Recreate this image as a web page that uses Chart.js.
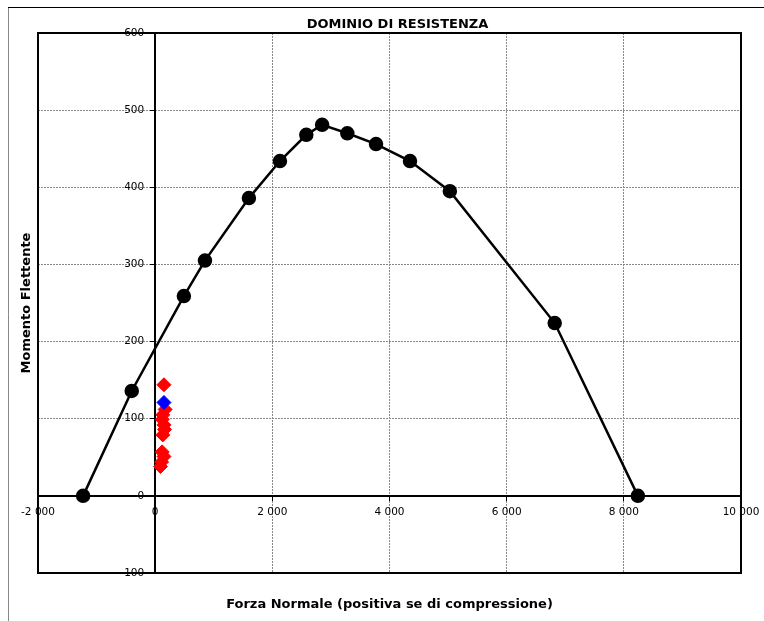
<!DOCTYPE html>
<html>
<head>
<meta charset="utf-8">
<script src="https://cdn.jsdelivr.net/npm/chart.js@4"></script>
<style>
  html, body { margin: 0; padding: 0; background: #fff; }
  #wrap { width: 764px; height: 621px; position: relative; }
</style>
</head>
<body>
<div id="wrap"><canvas id="dominioChart" width="764" height="621"></canvas></div>
<script>
// dominio di resistenza (N, M)
const dominioN = [-1230, -400, 490, 850, 1600, 2130, 2580, 2850, 3280, 3770, 4350, 5030, 6820, 8240];
const dominioM = [0, 136, 259, 305, 386, 434, 468, 481, 470, 456, 434, 395, 224, 0];

// sollecitazioni di verifica
const rossiN = [150, 170, 130, 120, 150, 160, 130, 120, 150, 110, 90];
const rossiM = [144, 112, 105, 99, 92, 86, 79, 57, 51, 44, 38];
const bluN = [150];
const bluM = [121];

const X_MIN = -2000, X_MAX = 10000, X_STEP = 2000;
const Y_MIN = -100, Y_MAX = 600, Y_STEP = 100;

const FONT = 'DejaVu Sans';

function toPoints(xs, ys) {
    return xs.map((x, i) => ({ x: x, y: ys[i] }));
}

function formatNum(v) {
    return String(v).replace(/\B(?=(\d{3})+(?!\d))/g, ' ');
}

// cornice esterna, riquadro del grafico, etichette e titoli
const framePlugin = {
    id: 'frame',
    beforeDraw(chart) {
        const ctx = chart.ctx;
        ctx.save();
        ctx.fillStyle = '#fff';
        ctx.fillRect(0, 0, chart.width, chart.height);
        ctx.strokeStyle = '#888';
        ctx.lineWidth = 1;
        ctx.beginPath();
        ctx.moveTo(8.5, chart.height);
        ctx.lineTo(8.5, 7.5);
        ctx.stroke();
        ctx.strokeStyle = '#000';
        ctx.beginPath();
        ctx.moveTo(8, 7.5);
        ctx.lineTo(chart.width, 7.5);
        ctx.stroke();
        ctx.restore();
    },
    beforeDatasetsDraw(chart) {
        const a = chart.chartArea;
        const ctx = chart.ctx;
        const xs = chart.scales.x;
        const ys = chart.scales.y;
        const x0 = xs.getPixelForValue(0);
        const y0 = ys.getPixelForValue(0);
        ctx.save();
        ctx.strokeStyle = '#000';
        ctx.lineWidth = 2;
        ctx.strokeRect(a.left, a.top, a.right - a.left, a.bottom - a.top);

        // etichette dei tick accanto agli assi
        ctx.fillStyle = '#000';
        ctx.font = '10.5px "' + FONT + '"';
        ctx.textBaseline = 'middle';
        ctx.textAlign = 'right';
        ys.ticks.forEach(t => {
            ctx.fillText(formatNum(t.value), x0 - 11, ys.getPixelForValue(t.value));
        });
        ctx.textAlign = 'center';
        xs.ticks.forEach(t => {
            ctx.fillText(formatNum(t.value), xs.getPixelForValue(t.value), y0 + 16);
        });
        ctx.restore();
    },
    afterDraw(chart) {
        const a = chart.chartArea;
        const ctx = chart.ctx;
        const cx = (a.left + a.right) / 2;
        ctx.save();
        ctx.fillStyle = '#000';
        ctx.textAlign = 'center';
        ctx.textBaseline = 'middle';
        ctx.font = 'bold 13px "' + FONT + '"';
        ctx.fillText('DOMINIO DI RESISTENZA', cx + 8, 25);
        ctx.fillText('Forza Normale (positiva se di compressione)', cx, 605);
        ctx.translate(27, (a.top + a.bottom) / 2);
        ctx.rotate(-Math.PI / 2);
        ctx.fillText('Momento Flettente', 0, 0);
        ctx.restore();
    }
};

const ctx = document.getElementById('dominioChart').getContext('2d');
new Chart(ctx, {
    type: 'scatter',
    data: {
        datasets: [{
            label: 'Dominio',
            data: toPoints(dominioN, dominioM),
            showLine: true,
            borderColor: '#000',
            backgroundColor: '#000',
            borderWidth: 2.5,
            tension: 0,
            pointRadius: 6,
            pointHoverRadius: 6,
            pointBackgroundColor: '#000',
            pointBorderColor: '#000'
        }, {
            label: 'Blu',
            data: toPoints(bluN, bluM),
            showLine: false,
            pointStyle: 'rectRot',
            pointRadius: 7,
            pointBackgroundColor: '#0000ff',
            pointBorderColor: '#0000ff'
        }, {
            label: 'Rossi',
            data: toPoints(rossiN, rossiM),
            showLine: false,
            pointStyle: 'rectRot',
            pointRadius: 7,
            pointBackgroundColor: '#ff0000',
            pointBorderColor: '#ff0000'
        }]
    },
    options: {
        responsive: false,
        animation: false,
        layout: { padding: { left: 38, top: 33, right: 23, bottom: 48 } },
        plugins: {
            legend: { display: false },
            tooltip: { enabled: false },
            title: { display: false }
        },
        scales: {
            x: {
                type: 'linear',
                position: { y: 0 },
                min: X_MIN,
                max: X_MAX,
                grid: {
                    color: (c) => (c.tick && (c.tick.value === X_MIN || c.tick.value === X_MAX || c.tick.value === 0)) ? 'rgba(0,0,0,0)' : '#888',
                    lineWidth: 1,
                    tickLength: 4,
                    tickColor: '#000'
                },
                border: { display: true, color: '#000', width: 2, dash: [2, 1] },
                ticks: {
                    stepSize: X_STEP,
                    display: false
                }
            },
            y: {
                type: 'linear',
                position: { x: 0 },
                min: Y_MIN,
                max: Y_MAX,
                grid: {
                    color: (c) => (c.tick && (c.tick.value === Y_MIN || c.tick.value === Y_MAX || c.tick.value === 0)) ? 'rgba(0,0,0,0)' : '#888',
                    lineWidth: 1,
                    tickLength: 4,
                    tickColor: '#000'
                },
                border: { display: true, color: '#000', width: 2, dash: [2, 1] },
                ticks: {
                    stepSize: Y_STEP,
                    display: false
                }
            }
        }
    },
    plugins: [framePlugin]
});
</script>
</body>
</html>
